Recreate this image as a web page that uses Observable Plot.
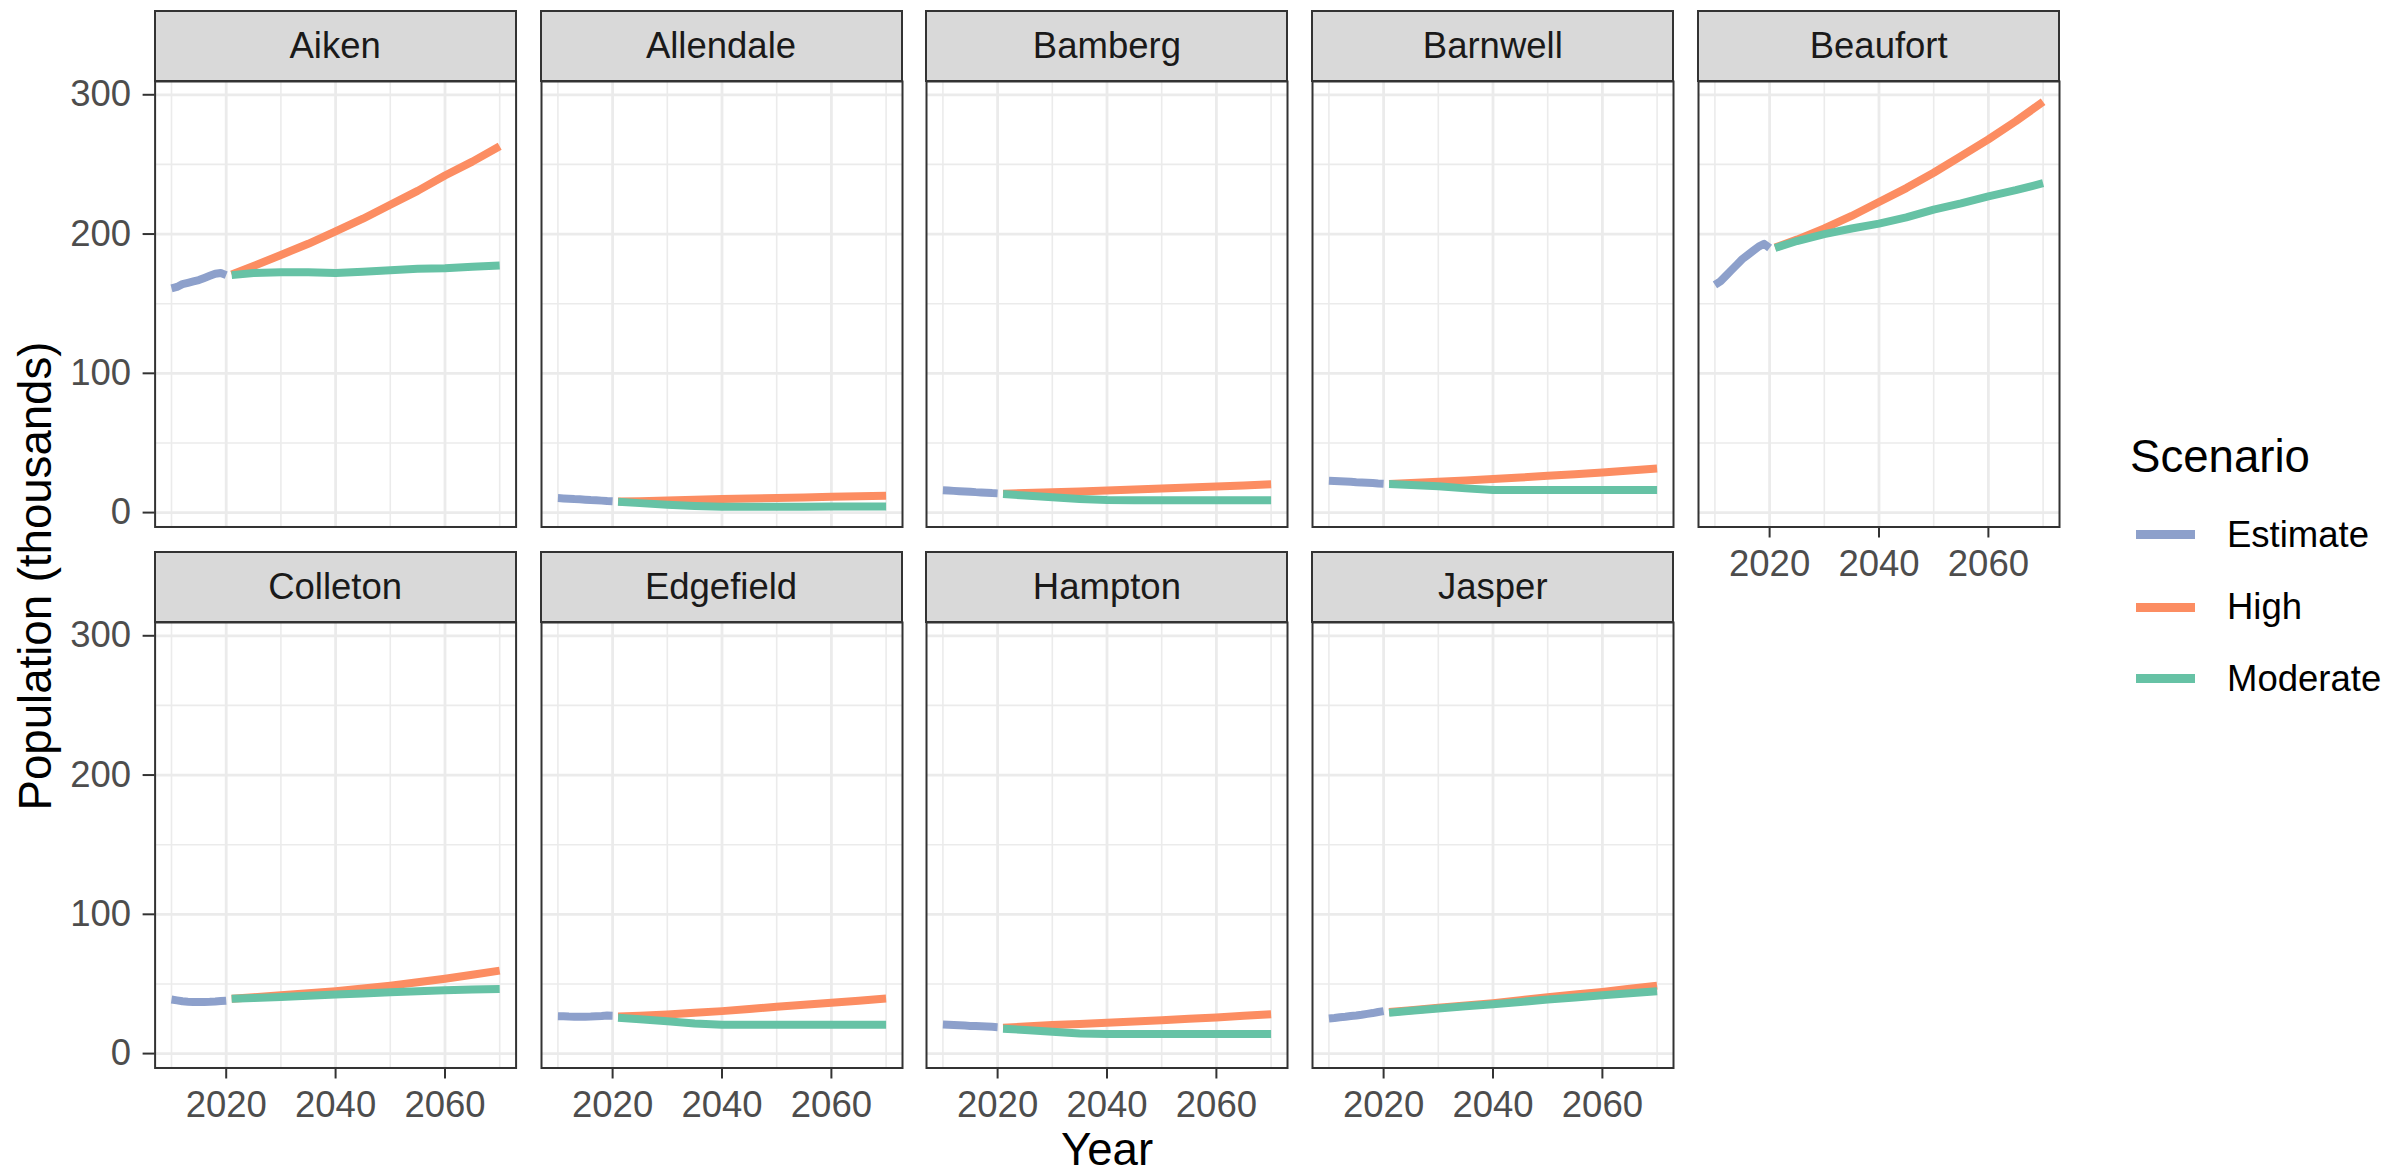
<!DOCTYPE html>
<html>
<head>
<meta charset="utf-8">
<script src="https://cdn.jsdelivr.net/npm/d3@7"></script>
<script src="https://cdn.jsdelivr.net/npm/@observablehq/plot@0.6"></script>
<style>
  body { margin: 0; background: #fff; font-family: "Liberation Sans", Arial, sans-serif; }
  #chart { position: relative; width: 2408px; height: 1176px; overflow: hidden; background: #fff; }
  #chart svg { position: absolute; overflow: visible; }
  .strip { position: absolute; box-sizing: border-box; background: #D9D9D9; border: 2px solid #333333;
           display: flex; align-items: center; justify-content: center; font-size: 36.5px; color: #1A1A1A; }
  .txt { position: absolute; white-space: nowrap; color: #000; }
  .key { position: absolute; height: 9px; }
</style>
</head>
<body>
<div id="chart"></div>
<script>
// ---------------- data ----------------
const counties = ["Aiken", "Allendale", "Bamberg", "Barnwell", "Beaufort", "Colleton", "Edgefield", "Hampton", "Jasper"];
const scenarios = ["Estimate", "High", "Moderate"];
const scenarioColors = ["#8DA0CB", "#FC8D62", "#66C2A5"];

const estimateYears = [2010, 2011, 2012, 2013, 2014, 2015, 2016, 2017, 2018, 2019, 2020];
const projectionYears = [2021, 2025, 2030, 2035, 2040, 2045, 2050, 2055, 2060, 2065, 2070];

// population in thousands, one row per county (same order as counties)
const estimateValues = [
  [161, 162, 164, 165, 166, 167, 168.5, 170, 171.5, 172, 170.5],
  [10.4, 10.2, 10.0, 9.7, 9.5, 9.3, 9.0, 8.8, 8.6, 8.3, 8.1],
  [16.0, 15.8, 15.6, 15.4, 15.2, 15.0, 14.7, 14.5, 14.3, 14.0, 13.8],
  [22.9, 22.7, 22.5, 22.3, 22.1, 21.8, 21.6, 21.4, 21.2, 20.9, 20.7],
  [163.5, 166, 170, 174, 178, 182, 185, 188, 191, 193, 190],
  [38.8, 38.2, 37.6, 37.3, 37.1, 37.0, 37.1, 37.2, 37.4, 37.7, 38.0],
  [26.9, 26.8, 26.6, 26.5, 26.5, 26.5, 26.6, 26.8, 27.0, 27.3, 27.2],
  [20.9, 20.7, 20.5, 20.3, 20.1, 19.9, 19.8, 19.6, 19.4, 19.2, 19.0],
  [25.2, 25.6, 26.1, 26.5, 27.0, 27.4, 27.9, 28.5, 29.1, 29.9, 30.5]
];
const highValues = [
  [171, 177, 185, 193, 202, 211, 221, 231, 242, 252, 263],
  [7.9, 8.2, 8.7, 9.2, 9.7, 10.1, 10.5, 10.9, 11.3, 11.7, 12.1],
  [13.6, 14.0, 14.6, 15.2, 15.9, 16.6, 17.3, 18.0, 18.8, 19.5, 20.3],
  [20.5, 21.2, 22.2, 23.1, 24.1, 25.2, 26.4, 27.6, 28.8, 30.2, 31.7],
  [190.4, 196, 204, 213, 223, 233, 244, 256, 268, 281, 295],
  [39.3, 40.4, 41.9, 43.3, 44.8, 46.7, 48.8, 51.2, 53.8, 56.6, 59.6],
  [26.7, 27.2, 28.1, 29.3, 30.5, 32.0, 33.6, 35.0, 36.5, 38.0, 39.5],
  [18.6, 19.4, 20.5, 21.3, 22.2, 23.1, 24.0, 25.0, 26.0, 27.1, 28.3],
  [29.8, 31.2, 32.9, 34.5, 36.2, 38.3, 40.5, 42.4, 44.3, 46.5, 48.8]
];
const moderateValues = [
  [170.5, 172, 172.5, 172.5, 172, 173, 174, 175, 175.5, 176.5, 177.5],
  [7.8, 6.8, 5.6, 4.7, 4.2, 4.2, 4.2, 4.2, 4.3, 4.3, 4.4],
  [13.3, 12.3, 11.0, 9.8, 9.0, 8.9, 8.9, 8.8, 8.8, 8.8, 8.8],
  [20.5, 19.9, 18.9, 17.4, 16.3, 16.3, 16.2, 16.2, 16.2, 16.2, 16.2],
  [190, 195, 200, 204, 207.5, 212, 217.5, 222, 227, 231.5, 236.5],
  [39.3, 39.9, 40.7, 41.6, 42.4, 43.2, 44.0, 44.8, 45.5, 46.0, 46.4],
  [25.7, 24.6, 23.3, 21.6, 20.7, 20.7, 20.7, 20.7, 20.7, 20.7, 20.7],
  [17.9, 17.0, 15.7, 14.5, 14.0, 14.0, 14.0, 14.0, 14.0, 14.0, 14.0],
  [29.3, 30.7, 32.4, 34.0, 35.5, 37.1, 38.8, 40.3, 41.9, 43.4, 44.8]
];

const yTicks = [0, 100, 200, 300];
const yMinor = [50, 150, 250];
const xTicks = [2020, 2040, 2060];
const xMinor = [2010, 2030, 2050, 2070];

// ---------------- table ----------------
const rows = [];
counties.forEach((county, i) => {
  estimateYears.forEach((year, j) => rows.push({county, scenario: "Estimate", year, value: estimateValues[i][j]}));
  projectionYears.forEach((year, j) => rows.push({county, scenario: "High", year, value: highValues[i][j]}));
  projectionYears.forEach((year, j) => rows.push({county, scenario: "Moderate", year, value: moderateValues[i][j]}));
});

// ggplot-like 5% expansion of the shared scales
const expand = ([a, b]) => [a - (b - a) * 0.05, b + (b - a) * 0.05];
const xDomain = expand(d3.extent(rows, d => d.year));
const yDomain = expand(d3.extent(rows, d => d.value));

// ---------------- layout ----------------
const chart = document.getElementById("chart");
const NCOL = 5;
const PANEL_W = 361, PANEL_H = 445.5;
const LEFT0 = 154.6, TOP0 = 81.4, COL_STEP = 385.9, ROW_STEP = 540.3, STRIP_H = 71;
const FONT = "Liberation Sans, Arial, sans-serif";
const SMALL = 36.5, BIG = 45.6;

counties.forEach((county, i) => {
  const col = i % NCOL, row = Math.floor(i / NCOL);
  const left = LEFT0 + col * COL_STEP;
  const top = TOP0 + row * ROW_STEP;
  const hasY = col === 0;
  const hasX = i + NCOL >= counties.length;
  const mL = hasY ? left : 4, mR = 4, mT = 4, mB = hasX ? 80 : 4;

  const svg = Plot.plot({
    width: PANEL_W + mL + mR,
    height: PANEL_H + mT + mB,
    marginLeft: mL, marginRight: mR, marginTop: mT, marginBottom: mB,
    style: {background: "transparent", fontFamily: FONT, overflow: "visible"},
    x: {domain: xDomain, label: null, axis: null},
    y: {domain: yDomain, label: null, axis: null},
    color: {domain: scenarios, range: scenarioColors},
    marks: [
      Plot.gridX(xMinor, {stroke: "#EBEBEB", strokeOpacity: 1, strokeWidth: 1.6}),
      Plot.gridY(yMinor, {stroke: "#EBEBEB", strokeOpacity: 1, strokeWidth: 1.6}),
      Plot.gridX(xTicks, {stroke: "#EBEBEB", strokeOpacity: 1, strokeWidth: 2.8}),
      Plot.gridY(yTicks, {stroke: "#EBEBEB", strokeOpacity: 1, strokeWidth: 2.8}),
      Plot.line(rows.filter(d => d.county === county), {
        x: "year", y: "value", z: "scenario", stroke: "scenario",
        strokeWidth: 8, strokeLinecap: "butt", strokeLinejoin: "round"
      }),
      Plot.frame({stroke: "#333333", strokeWidth: 2}),
      hasY ? Plot.axisY(yTicks, {tickSize: 12, tickPadding: 12, fontSize: SMALL, stroke: "#333333", strokeWidth: 2, fill: "#4D4D4D", label: null}) : null,
      hasX ? Plot.axisX(xTicks, {tickSize: 11, tickPadding: 12, fontSize: SMALL, stroke: "#333333", strokeWidth: 2, fill: "#4D4D4D", tickFormat: d => String(d), label: null}) : null
    ]
  });
  svg.style.left = (left - mL) + "px";
  svg.style.top = (top - mT) + "px";
  chart.appendChild(svg);

  const strip = document.createElement("div");
  strip.className = "strip";
  strip.style.left = (left - 1) + "px";
  strip.style.top = (top - STRIP_H) + "px";
  strip.style.width = (PANEL_W + 2) + "px";
  strip.style.height = (STRIP_H + 1) + "px";
  strip.textContent = county;
  chart.appendChild(strip);
});

function addText(str, x, y, size, extra) {
  const el = document.createElement("div");
  el.className = "txt";
  el.textContent = str;
  el.style.left = x + "px";
  el.style.top = y + "px";
  el.style.fontSize = size + "px";
  el.style.lineHeight = size + "px";
  el.style.transform = extra;
  chart.appendChild(el);
  return el;
}

// axis titles
addText("Year", 1107, 1150, BIG, "translate(-50%, -50%)");
addText("Population (thousands)", 36, 576, BIG, "translate(-50%, -50%) rotate(-90deg)");

// legend
addText("Scenario", 2130, 457, BIG, "translate(0, -50%)");
const keyY = [534.7, 607.3, 678.7];
scenarios.forEach((s, k) => {
  const key = document.createElement("div");
  key.className = "key";
  key.style.left = "2136px";
  key.style.width = "59px";
  key.style.top = (keyY[k] - 4.5) + "px";
  key.style.background = scenarioColors[k];
  chart.appendChild(key);
  addText(s, 2227, keyY[k], SMALL, "translate(0, -50%)");
});
</script>
</body>
</html>
